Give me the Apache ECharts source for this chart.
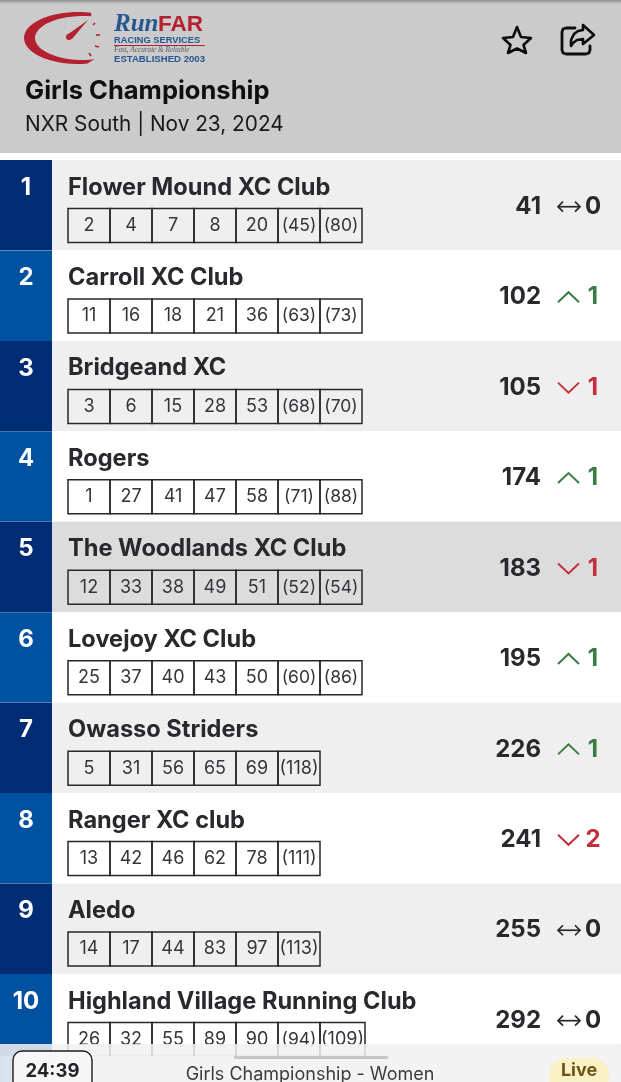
<!DOCTYPE html>
<html>
<head>
<meta charset="utf-8">
<style>
  html, body { margin: 0; padding: 0; background: #fff; }
  #chart { width: 621px; height: 1082px; }
</style>
<script src="https://cdn.jsdelivr.net/npm/echarts@6/dist/echarts.min.js"></script>
</head>
<body>
<div id="chart"></div>
<script>
const teamNames = ['Flower Mound XC Club', 'Carroll XC Club', 'Bridgeand XC', 'Rogers', 'The Woodlands XC Club',
  'Lovejoy XC Club', 'Owasso Striders', 'Ranger XC club', 'Aledo', 'Highland Village Running Club'];
const teamTotals = [41, 102, 105, 174, 183, 195, 226, 241, 255, 292];
const teamMoves = [0, 1, -1, 1, -1, 1, 1, -2, 0, 0];
const scoringPlaces = [
  [2, 4, 7, 8, 20],
  [11, 16, 18, 21, 36],
  [3, 6, 15, 28, 53],
  [1, 27, 41, 47, 58],
  [12, 33, 38, 49, 51],
  [25, 37, 40, 43, 50],
  [5, 31, 56, 65, 69],
  [13, 42, 46, 62, 78],
  [14, 17, 44, 83, 97],
  [26, 32, 55, 89, 90]
];
const droppedPlaces = [
  [45, 80], [63, 73], [68, 70], [71, 88], [52, 54],
  [60, 86], [118], [111], [113], [94, 109]
];

const FONT = 'Inter, "Noto Sans", sans-serif';
const INK = '#27292d';
const GREEN = '#3a7d44';
const RED = '#c42f3b';
const LOGO_BLUE = '#24578f';
const LOGO_RED = '#b3202f';
const cellW = 42;
const cellLeft = 68;

// one flat list of table cells, each one knows its column and team
const cells = [];
teamNames.forEach((name, row) => {
  scoringPlaces[row].forEach((p) => cells.push({ row, label: String(p) }));
  droppedPlaces[row].forEach((p) => cells.push({ row, label: '(' + p + ')' }));
});
const seen = {};
cells.forEach((c) => {
  c.col = seen[c.row] || 0;
  seen[c.row] = c.col + 1;
});

function rowBg(i) {
  if (i === 4) return '#dcdcdd';
  return i % 2 === 0 ? '#efeff0' : '#ffffff';
}

function renderRow(params, api) {
  const i = params.dataIndex;
  const mid = api.coord([0, i]);
  const h = api.size([0, 1])[1];
  const top = mid[1] - h / 2;
  const left = mid[0];
  const right = api.coord([621, i])[0];
  const rankRight = api.coord([52, i])[0];
  return {
    type: 'group',
    children: [
      { type: 'rect', shape: { x: left, y: top, width: right - left, height: h }, style: { fill: rowBg(i) } },
      { type: 'rect', shape: { x: left, y: top, width: rankRight - left, height: h }, style: { fill: i % 2 === 0 ? '#002c73' : '#0052a1' } },
      { type: 'text', style: { x: 26, y: top + 27.5, text: String(i + 1), fill: '#fff', fontFamily: FONT, fontSize: 24, fontWeight: 700, align: 'center', verticalAlign: 'middle' } },
      { type: 'text', style: { x: cellLeft, y: top + 27.5, text: teamNames[i], fill: INK, fontFamily: FONT, fontSize: 23.6, fontWeight: 700, align: 'left', verticalAlign: 'middle' } }
    ]
  };
}

function renderCell(params, api) {
  const c = cells[params.dataIndex];
  const mid = api.coord([cellLeft + c.col * cellW, c.row]);
  const h = api.size([0, 1])[1];
  const top = mid[1] - h / 2 + 48.5;
  const w = c.label === '(109)' ? 45 : cellW;
  let size = 18;
  if (c.label.length === 4) size = 17.5;
  if (c.label.length === 5) size = 18;
  return {
    type: 'group',
    children: [
      { type: 'rect', shape: { x: mid[0], y: top, width: w, height: 34 }, style: { fill: 'none', stroke: '#26282c', lineWidth: 1.5 } },
      { type: 'text', style: { x: mid[0] + w / 2, y: top + 17, text: c.label, fill: '#33353a', fontFamily: FONT, fontSize: size, fontWeight: 400, align: 'center', verticalAlign: 'middle' } }
    ]
  };
}

function moveMark(move, cy) {
  if (move === 0) {
    return [
      { type: 'polyline', shape: { points: [[558, cy], [580, cy]] }, style: { fill: 'none', stroke: INK, lineWidth: 1.7 } },
      { type: 'polyline', shape: { points: [[563, cy - 5], [558, cy], [563, cy + 5]] }, style: { fill: 'none', stroke: INK, lineWidth: 1.7 } },
      { type: 'polyline', shape: { points: [[575, cy - 5], [580, cy], [575, cy + 5]] }, style: { fill: 'none', stroke: INK, lineWidth: 1.7 } }
    ];
  }
  const up = move > 0;
  const d = up ? -5 : 5;
  return [{ type: 'polyline', shape: { points: [[558, cy - d], [568.5, cy + d], [579, cy - d]] }, style: { fill: 'none', stroke: up ? GREEN : RED, lineWidth: 2 } }];
}

function renderTotal(params, api) {
  const i = params.dataIndex;
  const mid = api.coord([541, i]);
  const cy = mid[1] + 1.5;
  const move = teamMoves[i];
  const color = move === 0 ? INK : (move > 0 ? GREEN : RED);
  return {
    type: 'group',
    children: [
      { type: 'text', style: { x: mid[0], y: cy, text: String(teamTotals[i]), fill: INK, fontFamily: FONT, fontSize: 24, fontWeight: 700, align: 'right', verticalAlign: 'middle' } },
      { type: 'text', style: { x: 593, y: cy, text: String(Math.abs(move)), fill: color, fontFamily: FONT, fontSize: 24, fontWeight: 700, align: 'center', verticalAlign: 'middle' } }
    ].concat(moveMark(move, cy))
  };
}

function label(x, y, text, fontSize, fill, fontWeight, extra) {
  return {
    type: 'text', z: 100,
    style: Object.assign({ x, y, text, fontSize, fill, fontWeight: fontWeight || 400, fontFamily: FONT, align: 'left', verticalAlign: 'middle' }, extra || {})
  };
}

// the logo's swoosh: outer edge out and inner edge back
function crescentPoints() {
  const pts = [];
  for (let a = 76; a <= 284; a += 6) {
    const r = a * Math.PI / 180;
    pts.push([78 + 54 * Math.cos(r), 38 - 26 * Math.sin(r)]);
  }
  for (let a = 284; a >= 76; a -= 6) {
    const r = a * Math.PI / 180;
    pts.push([83 + 48 * Math.cos(r), 38 - 22 * Math.sin(r)]);
  }
  return pts;
}

function gaugeTick(x1, y1, x2, y2) {
  return { type: 'polyline', z: 100, shape: { points: [[x1, y1], [x2, y2]] }, style: { fill: 'none', stroke: LOGO_RED, lineWidth: 1.6 } };
}

const headerGraphics = [
  { type: 'rect', z: 90, shape: { x: 0, y: 0, width: 621, height: 153 }, style: { fill: '#cbcbcb' } },
  { type: 'rect', z: 91, shape: { x: 0, y: 0, width: 621, height: 4 },
    style: { fill: new echarts.graphic.LinearGradient(0, 0, 0, 1, [{ offset: 0, color: '#8c8c8c' }, { offset: 1, color: '#cbcbcb' }]) } },
  { type: 'polygon', z: 100, shape: { points: crescentPoints() }, style: { fill: LOGO_RED } },
  { type: 'polygon', z: 100, shape: { points: [[67, 35], [88, 20], [72, 39]] }, style: { fill: LOGO_RED } },
  { type: 'circle', z: 100, shape: { cx: 69, cy: 37, r: 3 }, style: { fill: LOGO_RED } },
  gaugeTick(93, 25, 95, 23),
  gaugeTick(96, 35, 100, 35),
  gaugeTick(95, 46, 99, 47),
  gaugeTick(89, 53, 91, 56),
  label(114, 25, 'Run', 25, LOGO_BLUE, 700, { fontFamily: '"Liberation Serif"', fontStyle: 'italic' }),
  label(158, 25, 'FAR', 22.5, LOGO_RED, 700, { fontFamily: '"Liberation Sans"' }),
  label(114, 40, 'RACING SERVICES', 9.3, LOGO_BLUE, 700, { fontFamily: '"Liberation Sans"' }),
  { type: 'rect', z: 100, shape: { x: 114, y: 45, width: 91, height: 1 }, style: { fill: LOGO_RED } },
  label(114, 50.5, 'Fast, Accurate & Reliable', 7.2, '#555a66', 400, { fontFamily: '"Liberation Serif"', fontStyle: 'italic' }),
  label(114, 59.5, 'ESTABLISHED 2003', 9.6, LOGO_BLUE, 700, { fontFamily: '"Liberation Sans"' }),
  // star and share icons
  { type: 'polygon', z: 100, shape: { points: [[517, 27], [521, 37], [531, 38], [523.5, 45], [526, 53], [517, 48.5], [508, 53], [510.5, 45], [503, 38], [513, 37]] },
    style: { fill: 'none', stroke: '#0c0c0c', lineWidth: 2.6, lineJoin: 'round' } },
  { type: 'polyline', z: 100, shape: { points: [[575, 28], [566, 28], [563, 29], [562, 32], [562, 50], [563, 53], [566, 54], [586, 54], [589, 53], [590, 50], [590, 46]] },
    style: { fill: 'none', stroke: '#0c0c0c', lineWidth: 2.8, lineCap: 'round', lineJoin: 'round' } },
  { type: 'polygon', z: 100, shape: { points: [[583, 25], [594, 35], [583, 44], [583, 39], [577, 40], [573, 43], [571, 46], [571, 40], [574, 34], [578, 31], [583, 30]] },
    style: { fill: 'none', stroke: '#0c0c0c', lineWidth: 2.6, lineJoin: 'round' } },
  label(25, 91, 'Girls Championship', 25.5, '#0f0f10', 700),
  label(25, 125, 'NXR South | Nov 23, 2024', 20.8, '#18181a', 400),
  { type: 'rect', z: 90, shape: { x: 0, y: 153, width: 621, height: 7 }, style: { fill: '#ffffff' } }
];

const footerGraphics = [
  { type: 'rect', z: 95, shape: { x: 0, y: 1044, width: 621, height: 38 },
    style: { fill: new echarts.graphic.LinearGradient(0, 0, 0, 1, [
      { offset: 0, color: 'rgba(241,241,242,0.86)' },
      { offset: 0.32, color: 'rgba(241,241,242,0.86)' },
      { offset: 0.33, color: 'rgba(243,243,244,1)' },
      { offset: 1, color: 'rgba(243,243,244,1)' }
    ]) } },
  // the blue column still tints the frosted bar a little
  { type: 'rect', z: 96, shape: { x: 0, y: 1056, width: 60, height: 26 },
    style: { fill: new echarts.graphic.LinearGradient(0, 0, 1, 0, [{ offset: 0, color: 'rgba(190,210,232,0.5)' }, { offset: 1, color: 'rgba(190,210,232,0)' }]) } },
  { type: 'rect', z: 100, shape: { x: 234, y: 1056, width: 154, height: 3 }, style: { fill: '#c6c6c8' } },
  { type: 'rect', z: 100, shape: { x: 13, y: 1051, width: 79, height: 44, r: 9 }, style: { fill: '#f7f7f8', stroke: '#1c1c1e', lineWidth: 1.4 } },
  label(52.5, 1071, '24:39', 18.5, '#222428', 700, { align: 'center' }),
  label(310, 1075, 'Girls Championship - Women', 18, '#3a3c40', 400, { align: 'center' }),
  { type: 'rect', z: 100, shape: { x: 549, y: 1058, width: 60, height: 36, r: 16 }, style: { fill: '#fbf1c7' } },
  label(579, 1071, 'Live', 18, '#6e5512', 700, { align: 'center' })
];

const chart = echarts.init(document.getElementById('chart'));
chart.setOption({
  animation: false,
  backgroundColor: '#ffffff',
  grid: { left: 0, right: 0, top: 160, height: 904.4, containLabel: false },
  xAxis: { type: 'value', min: 0, max: 621, show: false },
  yAxis: { type: 'category', inverse: true, show: false, data: teamNames },
  graphic: { elements: headerGraphics.concat(footerGraphics) },
  series: [
    { type: 'custom', name: 'rows', z: 2, renderItem: renderRow, data: teamNames.map((n, i) => [0, i]), encode: { x: 0, y: 1 } },
    { type: 'custom', name: 'places', z: 3, renderItem: renderCell, data: cells.map((c) => [cellLeft + c.col * cellW, c.row]), encode: { x: 0, y: 1 } },
    { type: 'custom', name: 'totals', z: 3, renderItem: renderTotal, data: teamTotals.map((t, i) => [541, i]), encode: { x: 0, y: 1 } }
  ]
});

window.addEventListener('resize', () => chart.resize());
</script>
</body>
</html>
